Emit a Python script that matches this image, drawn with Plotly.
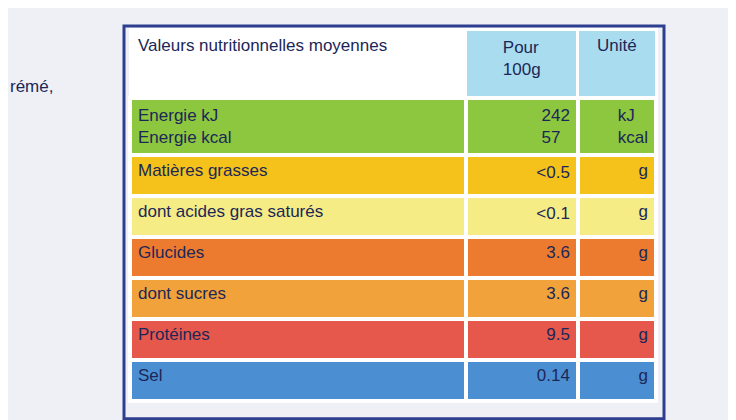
import plotly.graph_objects as go

header = ["Valeurs nutritionnelles moyennes", "Pour<br>100g", "Unité"]
labels = ["Energie kJ<br>Energie kcal", "Matières grasses", "dont acides gras saturés",
          "Glucides", "dont sucres", "Protéines", "Sel"]
values = ["242<br>57", "<0.5", "<0.1", "3.6", "3.6", "9.5", "0.14"]
units = ["kJ<br>kcal", "g", "g", "g", "g", "g", "g"]
row_colors = ["#8dc63f", "#f4c21b", "#f6ec86", "#ec7b2f", "#f2a23a", "#e6574c", "#4b8fd2"]

ink = "#1c2757"
fig = go.Figure(go.Table(
    domain=dict(x=[122 / 736, 648 / 736], y=[0.03, 0.948]),
    columnwidth=[335, 112, 78],
    header=dict(
        values=header,
        fill_color=["white", "#aadcef", "#aadcef"],
        line=dict(color="white", width=3),
        align=["left", "center", "center"],
        font=dict(family="Liberation Sans", size=17, color=ink),
        height=68,
    ),
    cells=dict(
        values=[labels, values, units],
        fill_color=[row_colors] * 3,
        line=dict(color="white", width=4),
        align=["left", "right", "right"],
        font=dict(family="Liberation Sans", size=17, color=ink),
        height=41,
    ),
))

fig.add_shape(type="rect", xref="paper", yref="paper",
              x0=116 / 736, x1=656 / 736, y0=0.022, y1=0.957,
              line=dict(color="#2f3f8f", width=3), fillcolor="rgba(0,0,0,0)")
fig.add_annotation(text="rémé,", x=0, y=0.84, xref="paper", yref="paper",
                   xanchor="left", showarrow=False,
                   font=dict(family="Liberation Sans", size=17, color=ink))

fig.update_layout(width=736, height=420, margin=dict(l=0, r=0, t=0, b=0),
                  paper_bgcolor="#eef0f6")
fig.write_html("out.html")
